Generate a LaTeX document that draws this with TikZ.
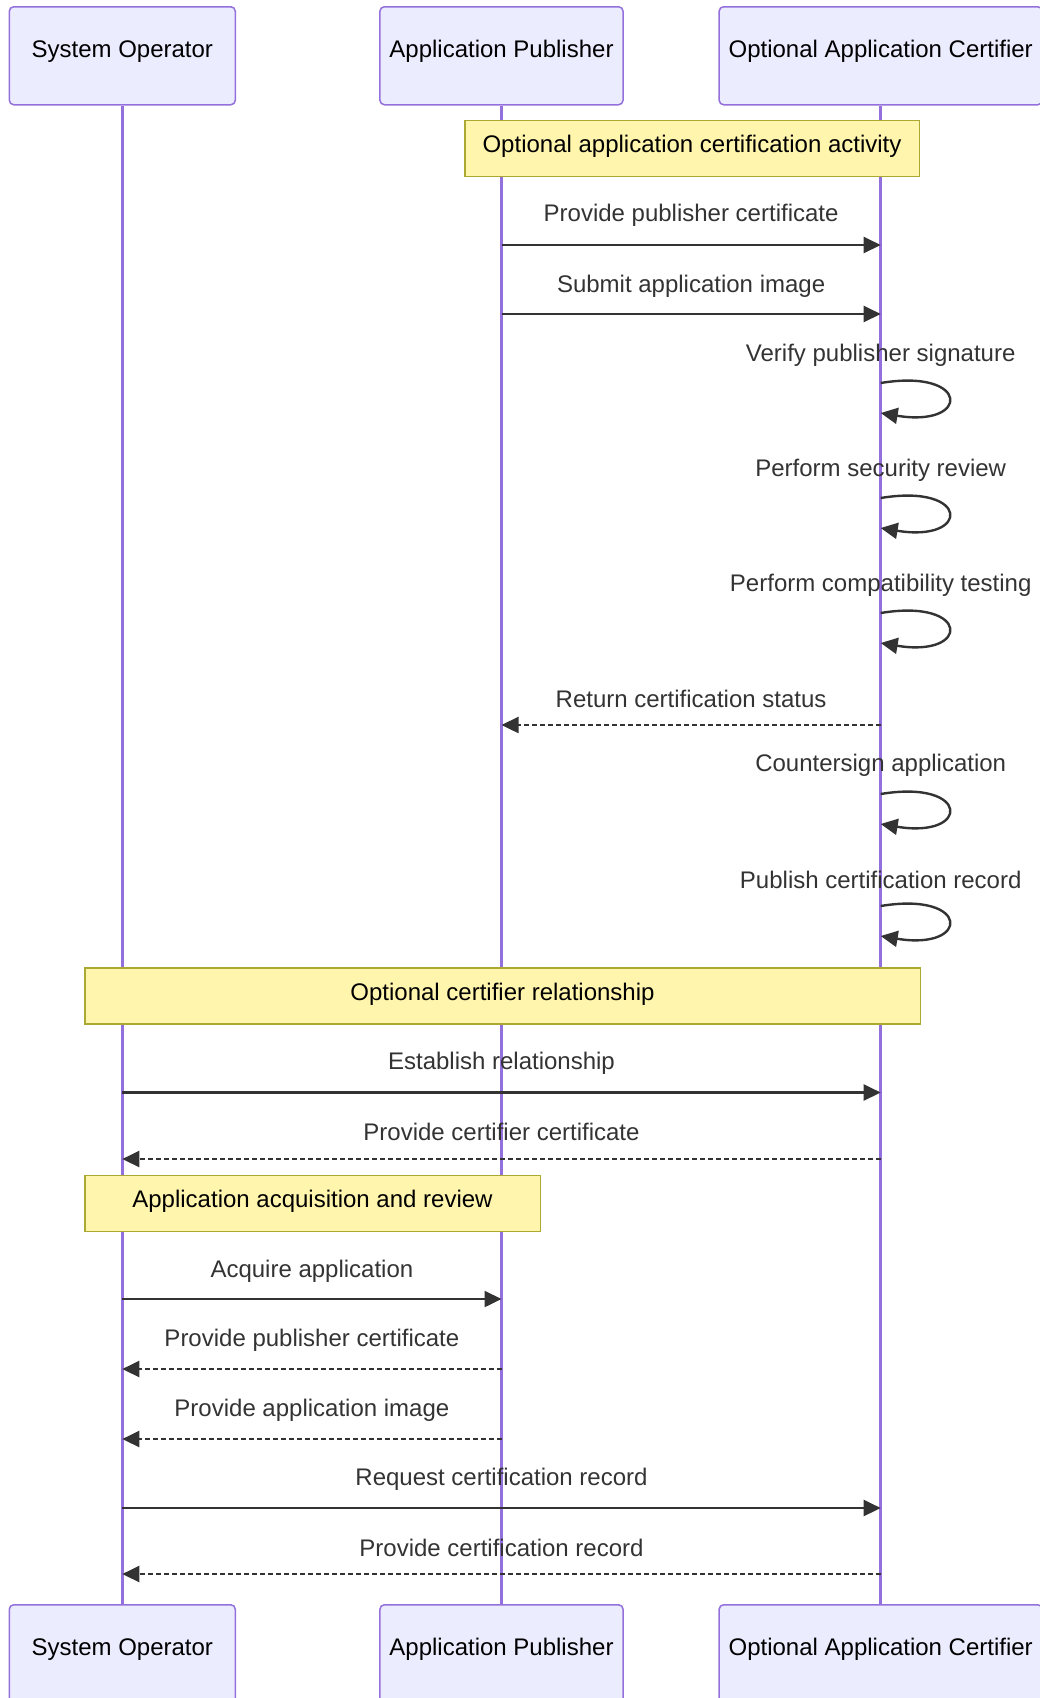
\documentclass[tikz,border=0pt]{standalone}
\usepackage{fontspec}
\setmainfont{Liberation Sans}
\usetikzlibrary{arrows.meta}
\definecolor{actorfill}{HTML}{ECECFF}
\definecolor{actorline}{HTML}{9370DB}
\definecolor{notefill}{HTML}{FFF5AD}
\definecolor{noteline}{HTML}{AAAA33}
\definecolor{msgline}{HTML}{333333}
\tikzstyle{actor} = [rectangle, rounded corners=4.5pt, minimum width=226pt, minimum height=98pt, inner xsep=9.5pt, text height=17.2pt, text depth=14pt, fill=actorfill, draw=actorline, line width=1.5pt, font=\fontsize{24}{29}\selectfont, anchor=north]
\tikzstyle{lifeline} = [draw=actorline, line width=3pt]
\tikzstyle{note} = [rectangle, inner sep=0pt, minimum height=56pt, text height=17.2pt, text depth=8pt, fill=notefill, draw=noteline, line width=1.5pt, font=\fontsize{24}{29}\selectfont, anchor=north west]
\tikzstyle{msgtext} = [text=msgline, inner sep=0pt, font=\fontsize{24}{29}\selectfont]
\tikzstyle{msg} = [draw=msgline, line width=2.4pt, -{Triangle[length=17pt,width=16pt]}]
\tikzstyle{reply} = [msg, dash pattern=on 4.5pt off 3.5pt]

\begin{document}
\begin{tikzpicture}[x=1pt, y=-1pt]
        \useasboundingbox (0,0) rectangle (1040,1698);
        % participants
        \node (so) [actor] at (122.3,6) {System Operator};
        \node (ap) [actor] at (501.5,6) {Application Publisher};
        \node (oc) [actor] at (880.7,6) {Optional Application Certifier};
        \node (so2) [actor] at (122.3,1604) {System Operator};
        \node (ap2) [actor] at (501.5,1604) {Application Publisher};
        \node (oc2) [actor] at (880.7,1604) {Optional Application Certifier};

        \draw [lifeline] (so) -- (so2);
        \draw [lifeline] (ap) -- (ap2);
        \draw [lifeline] (oc) -- (oc2);

        % certification activity
        \node (cert) [note, minimum width=454.5pt] at (464,119.5) {Optional application certification activity};

        \coordinate (ap1) at (ap |- 0,245);
        \coordinate (oc1) at (oc |- 0,245);
        \draw [msg] (ap1) -- (oc1) node [msgtext, midway, yshift=29.5pt] (t1) {Provide publisher certificate};

        \coordinate (ap2a) at (ap |- 0,314);
        \coordinate (oc2a) at (oc |- 0,314);
        \draw [msg] (ap2a) -- (oc2a) node [msgtext, midway, yshift=28pt] (t2) {Submit application image};

        \coordinate (vfa) at (oc |- 0,383);
        \coordinate (vfb) at (oc |- 0,413);
        \node (t3) [msgtext] at (oc |- 0,355) {Verify publisher signature};
        \draw [msg] (vfa) .. controls +(90,-15) and +(90,15) .. (vfb);

        \coordinate (sra) at (oc |- 0,498);
        \coordinate (srb) at (oc |- 0,528);
        \node (t4) [msgtext] at (oc |- 0,470) {Perform security review};
        \draw [msg] (sra) .. controls +(90,-15) and +(90,15) .. (srb);

        \coordinate (cta) at (oc |- 0,613);
        \coordinate (ctb) at (oc |- 0,643);
        \node (t5) [msgtext] at (oc |- 0,585) {Perform compatibility testing};
        \draw [msg] (cta) .. controls +(90,-15) and +(90,15) .. (ctb);

        \coordinate (oc6) at (oc |- 0,725);
        \coordinate (ap6) at (ap |- 0,725);
        \draw [reply] (oc6) -- (ap6) node [msgtext, midway, yshift=26pt] (t6) {Return certification status};

        \coordinate (csa) at (oc |- 0,794);
        \coordinate (csb) at (oc |- 0,824);
        \node (t7) [msgtext] at (oc |- 0,765.5) {Countersign application};
        \draw [msg] (csa) .. controls +(90,-15) and +(90,15) .. (csb);

        \coordinate (pra) at (oc |- 0,906);
        \coordinate (prb) at (oc |- 0,936);
        \node (t8) [msgtext] at (oc |- 0,880) {Publish certification record};
        \draw [msg] (pra) .. controls +(90,-15) and +(90,15) .. (prb);

        % certifier relationship
        \node (rel) [note, minimum width=835.5pt] at (84,967) {Optional certifier relationship};

        \coordinate (so9) at (so |- 0,1092.5);
        \coordinate (oc9) at (oc |- 0,1092.5);
        \draw [msg] (so9) -- (oc9) node [msgtext, midway, yshift=29pt] (t9) {Establish relationship};

        \coordinate (oc10) at (oc |- 0,1159);
        \coordinate (so10) at (so |- 0,1159);
        \draw [reply] (oc10) -- (so10) node [msgtext, midway, yshift=27pt] (t10) {Provide certifier certificate};

        % acquisition and review
        \node (acq) [note, minimum width=455.5pt] at (84,1174.5) {Application acquisition and review};

        \coordinate (so11) at (so |- 0,1299);
        \coordinate (ap11) at (ap |- 0,1299);
        \draw [msg] (so11) -- (ap11) node [msgtext, midway, yshift=28pt] (t11) {Acquire application};

        \coordinate (ap12) at (ap |- 0,1369);
        \coordinate (so12) at (so |- 0,1369);
        \draw [reply] (ap12) -- (so12) node [msgtext, midway, yshift=28.5pt] (t12) {Provide publisher certificate};

        \coordinate (ap13) at (ap |- 0,1439);
        \coordinate (so13) at (so |- 0,1439);
        \draw [reply] (ap13) -- (so13) node [msgtext, midway, yshift=29pt] (t13) {Provide application image};

        \coordinate (so14) at (so |- 0,1508);
        \coordinate (oc14) at (oc |- 0,1508);
        \draw [msg] (so14) -- (oc14) node [msgtext, midway, yshift=29pt] (t14) {Request certification record};

        \coordinate (oc15) at (oc |- 0,1574);
        \coordinate (so15) at (so |- 0,1574);
        \draw [reply] (oc15) -- (so15) node [msgtext, midway, yshift=26.5pt] (t15) {Provide certification record};
    \end{tikzpicture}
\end{document}
